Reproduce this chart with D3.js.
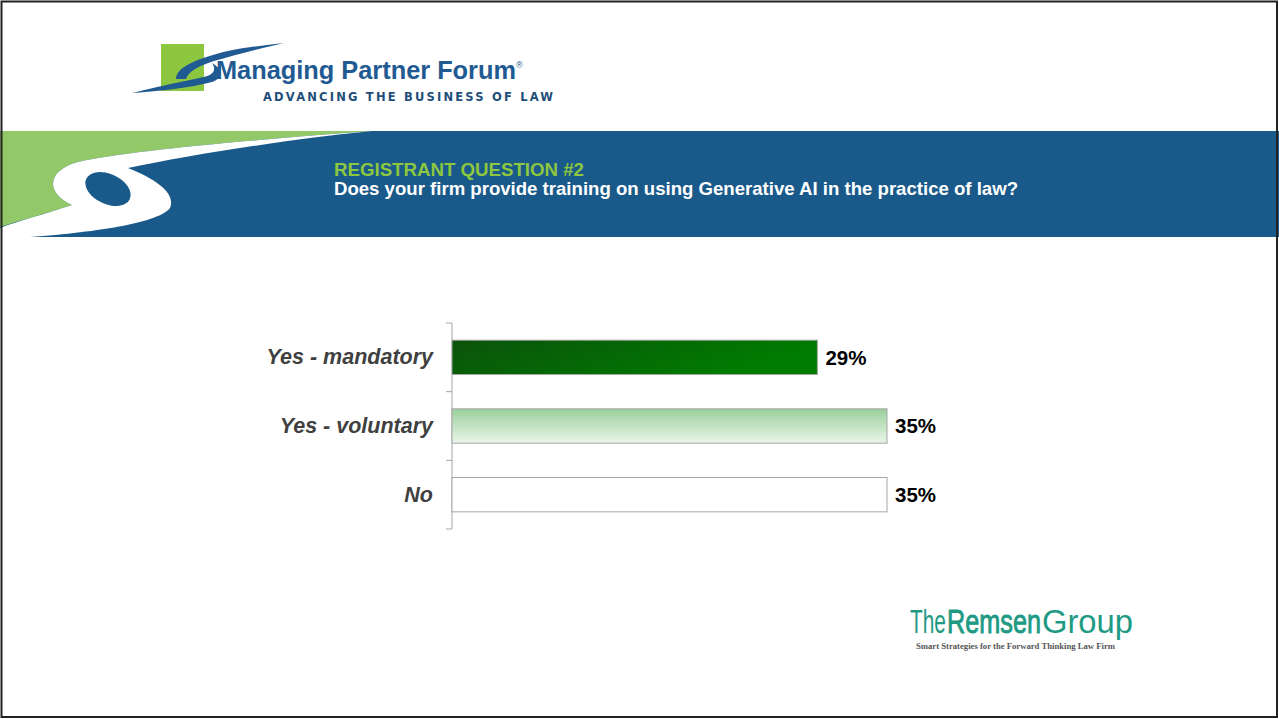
<!DOCTYPE html>
<html>
<head>
<meta charset="utf-8">
<script src="https://cdn.jsdelivr.net/npm/d3@7"></script>
<style>
  body { margin: 0; background: #fff; }
  svg { display: block; }
</style>
</head>
<body>
<div id="chart"></div>
<script>
// survey answers and share of registrants (%)
var categories = ["Yes - mandatory", "Yes - voluntary", "No"];
var values = [29.4, 35.0, 35.0];

var title = "REGISTRANT QUESTION #2";
var question = "Does your firm provide training on using Generative AI in the practice of law?";

var width = 1279, height = 719;

var svg = d3.select("#chart").append("svg")
  .attr("width", width)
  .attr("height", height);

var defs = svg.append("defs");

var g1 = defs.append("linearGradient").attr("id", "gMand")
  .attr("x1", "0%").attr("y1", "0%").attr("x2", "100%").attr("y2", "30%");
g1.append("stop").attr("offset", "0%").attr("stop-color", "#0b520b");
g1.append("stop").attr("offset", "100%").attr("stop-color", "#007d00");

var g2 = defs.append("linearGradient").attr("id", "gVol")
  .attr("x1", "0%").attr("y1", "0%").attr("x2", "0%").attr("y2", "100%");
g2.append("stop").attr("offset", "0%").attr("stop-color", "#9bcf9b");
g2.append("stop").attr("offset", "100%").attr("stop-color", "#eaf6ea");

var fills = ["url(#gMand)", "url(#gVol)", "#ffffff"];

// fit a text to a width by squeezing it sideways
function squeeze(sel, x, y, w) {
  var nat = sel.node().getComputedTextLength();
  sel.attr("transform", "translate(" + x + "," + y + ") scale(" + (w / nat) + ",1)");
}

// ---- header band ----
svg.append("rect")
  .attr("x", 0).attr("y", 131).attr("width", width).attr("height", 106)
  .attr("fill", "#1a5a8a");

svg.append("path")
  .attr("fill", "#92c868")
  .attr("d", "M0,131 H372 C250,140 125,151 78,162 C48,170 44,192 72,205 C45,214 18,221 0,227 Z");

svg.append("path")
  .attr("fill", "#ffffff")
  .attr("d", "M372,131 C250,140 125,151 78,162 C48,170 44,192 72,205 C45,214 18,221 0,228 L0,237 L30,237 C100,232 160,222 170,208 C176,194 158,180 128,168 C190,155 290,139 372,131 Z");

svg.append("ellipse")
  .attr("cx", 108).attr("cy", 189).attr("rx", 24).attr("ry", 15)
  .attr("transform", "rotate(25,108,189)")
  .attr("fill", "#1a5a8a");

svg.append("text")
  .attr("x", 334).attr("y", 176)
  .attr("textLength", 250).attr("lengthAdjust", "spacingAndGlyphs")
  .style("font-family", "'Liberation Sans Narrow', 'Arial Narrow', sans-serif")
  .style("font-weight", "bold").style("font-size", "19px")
  .attr("fill", "#8dc63f")
  .text(title);

svg.append("text")
  .attr("x", 334).attr("y", 195)
  .attr("textLength", 684).attr("lengthAdjust", "spacingAndGlyphs")
  .style("font-family", "'Liberation Sans Narrow', 'Arial Narrow', sans-serif")
  .style("font-weight", "bold").style("font-size", "19px")
  .attr("fill", "#ffffff")
  .text(question);

// ---- Managing Partner Forum logo ----
svg.append("rect")
  .attr("x", 161).attr("y", 44).attr("width", 43).attr("height", 47)
  .attr("fill", "#8dc63f");

svg.append("path")
  .attr("fill", "#1f5a92")
  .attr("d", "M176,79 C176,67 198,58 228,51 C248,47 266,45 284,43 C262,48 236,55 214,61 C198,66 188,72 186,79 Z");
svg.append("path")
  .attr("fill", "#1f5a92")
  .attr("d", "M132,93 C160,86 190,80 204,77 C213,75 217,70 212,63 C223,69 224,78 212,82 C190,88 160,91 132,93 Z");

svg.append("text")
  .attr("x", 216).attr("y", 79)
  .attr("textLength", 300).attr("lengthAdjust", "spacingAndGlyphs")
  .style("font-family", "'Liberation Sans', Arial, sans-serif")
  .style("font-weight", "bold").style("font-size", "25px")
  .attr("fill", "#1f5a92")
  .text("Managing Partner Forum");

svg.append("text")
  .attr("x", 516).attr("y", 68)
  .style("font-family", "'Liberation Sans', Arial, sans-serif")
  .style("font-size", "9px")
  .attr("fill", "#1f5a92")
  .text("®");

svg.append("text")
  .attr("x", 263).attr("y", 101)
  .attr("textLength", 290).attr("lengthAdjust", "spacing")
  .style("font-family", "'DejaVu Sans', sans-serif")
  .style("font-weight", "bold").style("font-size", "11.5px")
  .attr("fill", "#1f4e7a")
  .text("ADVANCING THE BUSINESS OF LAW");

// ---- chart ----
var margin = {top: 323, left: 452};
var plotH = 206;

var y = d3.scaleBand()
  .domain(categories)
  .range([0, plotH])
  .paddingInner(0.5)
  .paddingOuter(0.25);

var x = d3.scaleLinear()
  .domain([0, d3.max(values)])
  .range([0, 435]);

var g = svg.append("g")
  .attr("transform", "translate(" + margin.left + "," + margin.top + ")");

var axis = g.append("g")
  .call(d3.axisLeft(y).tickSize(0).tickPadding(19));
axis.select(".domain").attr("stroke", "#a6a6a6").attr("d", "M0,0V" + plotH);
axis.selectAll("text")
  .style("font-family", "'Liberation Sans', Arial, sans-serif")
  .style("font-weight", "bold").style("font-style", "italic")
  .style("font-size", "21.5px")
  .attr("fill", "#404040");

// category boundary ticks
var bounds = d3.range(categories.length + 1).map(function(i) { return i * y.step(); });
g.selectAll(".btick")
  .data(bounds)
  .enter().append("line")
  .attr("class", "btick")
  .attr("x1", -6).attr("x2", 0)
  .attr("y1", function(d) { return d; })
  .attr("y2", function(d) { return d; })
  .attr("stroke", "#a6a6a6");

g.selectAll(".bar")
  .data(values)
  .enter().append("rect")
  .attr("class", "bar")
  .attr("x", 0)
  .attr("y", function(d, i) { return y(categories[i]); })
  .attr("width", function(d) { return x(d); })
  .attr("height", y.bandwidth())
  .attr("fill", function(d, i) { return fills[i]; })
  .attr("stroke", "#a6a6a6");

g.selectAll(".val")
  .data(values)
  .enter().append("text")
  .attr("class", "val")
  .attr("x", function(d) { return x(d) + 8; })
  .attr("y", function(d, i) { return y(categories[i]) + y.bandwidth() / 2; })
  .attr("dy", "0.35em")
  .style("font-family", "'Liberation Sans', Arial, sans-serif")
  .style("font-weight", "bold").style("font-size", "20.5px")
  .attr("fill", "#000")
  .text(function(d) { return Math.round(d) + "%"; });

// ---- Remsen Group logo ----
var logoFont = "'Liberation Sans Narrow', 'Arial Narrow', sans-serif";
[["The", 910, 36, 0], ["Remsen", 947, 94, 0.9], ["Group", 1042, 91, 0]]
  .forEach(function(w) {
    var t = svg.append("text")
      .style("font-family", logoFont)
      .style("font-size", "34px")
      .attr("fill", "#1e9a84")
      .attr("stroke", "#1e9a84")
      .attr("stroke-width", w[3])
      .text(w[0]);
    squeeze(t, w[1], 633, w[2]);
  });

svg.append("text")
  .attr("x", 916).attr("y", 648.5)
  .attr("textLength", 199).attr("lengthAdjust", "spacingAndGlyphs")
  .style("font-family", "'Liberation Serif', 'DejaVu Serif', serif")
  .style("font-weight", "bold").style("font-size", "8.5px")
  .attr("fill", "#555")
  .text("Smart Strategies for the Forward Thinking Law Firm");

// frame
svg.append("rect")
  .attr("x", 1.5).attr("y", 1.5).attr("width", width - 3.5).attr("height", height - 3.5)
  .attr("fill", "none").attr("stroke", "#222").attr("stroke-width", 2);
</script>
</body>
</html>
